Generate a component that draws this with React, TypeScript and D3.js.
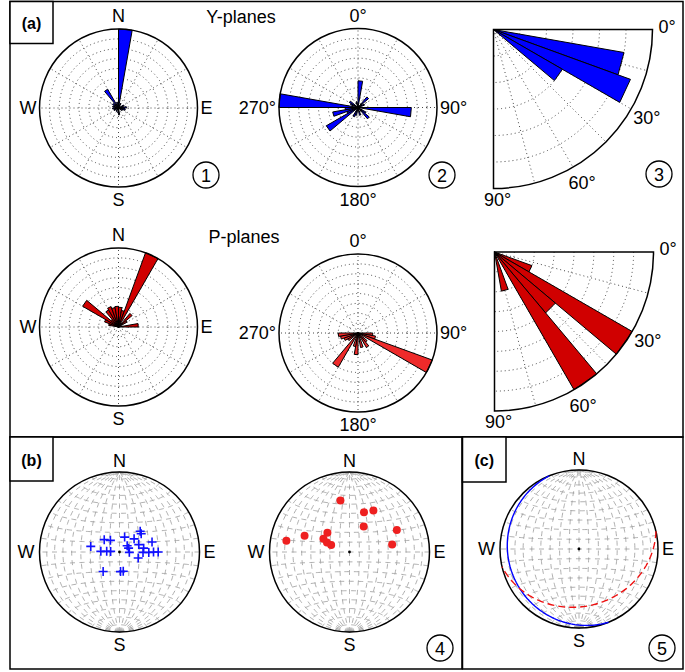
import React from 'react';
import * as d3 from 'd3';

const FONT = 'Liberation Sans, Arial, Helvetica, sans-serif';
const deg = Math.PI / 180;
const BIN = 10; // rose bin width, degrees

// (a) rose diagrams: bin start (deg, clockwise from N / from horizontal) and bin count
const yGeoBins = [0, 20, 60, 80, 90, 100, 120, 170, 180, 210, 240, 260, 280, 300, 320, 340];
const yGeoCounts = [8, 0.5, 0.6, 0.8, 0.6, 0.7, 0.4, 0.7, 0.5, 0.4, 0.5, 0.6, 0.6, 0.7, 2.2, 0.6];
const yRelBins = [0, 40, 60, 90, 120, 130, 160, 190, 200, 230, 240, 250, 260, 270, 290, 300, 340];
const yRelCounts = [2.7, 1.4, 0.7, 5.4, 0.9, 1.5, 0.8, 0.8, 1.0, 3.7, 1.2, 2.6, 1.3, 8, 0.8, 1.0, 0.6];
const yDipBins = [10, 20, 30];
const yDipCounts = [10, 11, 6];

const pGeoBins = [0, 10, 20, 40, 50, 80, 280, 290, 300, 310, 320, 330, 340, 350];
const pGeoCounts = [2.0, 1.7, 8, 1.8, 1.0, 2.0, 1.0, 1.5, 4.2, 1.0, 2.0, 2.2, 2.0, 2.1];
const pRelBins = [90, 100, 110, 130, 140, 160, 180, 190, 210, 230, 240, 250, 260];
const pRelCounts = [1.5, 1.8, 8, 1.2, 1.7, 1.5, 2.2, 1.4, 4.0, 1.2, 1.5, 1.8, 2.0];
const pDipBins = [20, 30, 40, 50, 70];
const pDipCounts = [1, 4, 2, 4, 1];

// (b) poles, trend / plunge
const yPoleTrend = [281, 309, 322, 272, 273, 274, 19, 48, 51, 67, 45, 50, 69, 81, 73, 91, 90, 90, 91, 92, 108, 220, 177, 169];
const yPolePlunge = [60, 70, 75, 71, 77, 81, 74, 70, 80, 80, 60, 61, 69, 65, 55, 60, 55, 50, 66, 80, 70, 64, 70, 70];
const pPoleTrend = [350, 20, 30, 29, 65, 80, 280, 290, 311, 297, 293, 291];
const pPolePlunge = [35, 46, 40, 60, 35, 45, 21, 40, 60, 60, 65, 70];

// (c) mean planes, dip direction / dip
const yPlane = [248, 11];
const pPlane = [167, 28];

const line = d3.line();

// lower-hemisphere equal-area projection of a unit vector (north, east, down)
const projVec = (n: number, e: number, d: number): [number, number] => {
  const h = Math.hypot(n, e) || 1;
  const rho = Math.sqrt(Math.max(0, 1 - d));
  return [(rho * e) / h, (-rho * n) / h];
};
const projLine = (trend: number, plunge: number) =>
  projVec(Math.cos(plunge * deg) * Math.cos(trend * deg), Math.cos(plunge * deg) * Math.sin(trend * deg), Math.sin(plunge * deg));

// points of a great circle given dip direction / dip, starting at the strike end
const planePoints = (dipDir: number, dip: number, startAz: number) => {
  const s = [Math.cos(startAz * deg), Math.sin(startAz * deg), 0];
  const dv = [Math.cos(dip * deg) * Math.cos(dipDir * deg), Math.cos(dip * deg) * Math.sin(dipDir * deg), Math.sin(dip * deg)];
  return d3.range(0, 180.5, 1.5).map((t) => {
    const c = Math.cos(t * deg), sn = Math.sin(t * deg);
    return projVec(c * s[0] + sn * dv[0], c * s[1] + sn * dv[1], c * s[2] + sn * dv[2]);
  });
};

const Label = ({ x, y, children, anchor = 'middle', size = 18, weight = 'normal' }: any) => (
  <text x={x} y={y} dy="0.35em" textAnchor={anchor} fontSize={size} fontWeight={weight} fontFamily={FONT} fill="#000">
    {children}
  </text>
);

const RoseFull = ({ cx, cy, bins, counts, fill, labels }: any) => {
  const R = 79;
  const r = d3.scaleLinear().domain([0, 8]).range([0, R]);
  return (
    <g transform={`translate(${cx},${cy})`}>
      {d3.range(1, 8).map((k) => (
        <circle key={k} r={r(k)} fill="none" stroke="#333" strokeWidth={0.9} strokeDasharray="1 3" />
      ))}
      {d3.range(0, 360, 30).map((a) => {
        const p = d3.pointRadial(a * deg, R);
        return <line key={a} x1={0} y1={0} x2={p[0]} y2={p[1]} stroke="#333" strokeWidth={0.9} strokeDasharray="1 3" />;
      })}
      {bins.map((b: number, i: number) => (
        <path
          key={b}
          d={line([[0, 0], d3.pointRadial(b * deg, r(counts[i])), d3.pointRadial((b + BIN) * deg, r(counts[i]))]) + 'Z'}
          fill={fill}
          stroke="#000"
          strokeWidth={1}
          strokeLinejoin="round"
        />
      ))}
      <circle r={R} fill="none" stroke="#000" strokeWidth={1.5} />
      <Label x={0} y={-R - 13}>{labels[0]}</Label>
      <Label x={R + 3} y={0} anchor="start">{labels[1]}</Label>
      <Label x={0} y={R + 13}>{labels[2]}</Label>
      <Label x={-R - 3} y={0} anchor="end">{labels[3]}</Label>
    </g>
  );
};

const RoseQuarter = ({ ox, oy, bins, counts, max, fill }: any) => {
  const R = 159;
  const r = d3.scaleLinear().domain([0, max]).range([0, R]);
  const pt = (a: number, rr: number) => d3.pointRadial((a + 90) * deg, rr);
  const rings = d3.range(max / (max === 12 ? 6 : 8), max - 1e-6, max / (max === 12 ? 6 : 8));
  const border = d3.path();
  border.moveTo(0, 0);
  border.lineTo(R, 0);
  border.arc(0, 0, R, 0, Math.PI / 2);
  border.closePath();
  return (
    <g transform={`translate(${ox},${oy})`}>
      {rings.map((v) => {
        const p = d3.path();
        p.moveTo(r(v), 0);
        p.arc(0, 0, r(v), 0, Math.PI / 2);
        return <path key={v} d={p.toString()} fill="none" stroke="#333" strokeWidth={0.9} strokeDasharray="1 3" />;
      })}
      {d3.range(15, 90, 15).map((a) => {
        const p = pt(a, R);
        return <line key={a} x1={0} y1={0} x2={p[0]} y2={p[1]} stroke="#333" strokeWidth={0.9} strokeDasharray="1 3" />;
      })}
      {bins.map((b: number, i: number) => (
        <path
          key={b}
          d={line([[0, 0], pt(b, r(counts[i])), pt(b + BIN, r(counts[i]))]) + 'Z'}
          fill={fill}
          stroke="#000"
          strokeWidth={1}
          strokeLinejoin="round"
        />
      ))}
      <path d={border.toString()} fill="none" stroke="#000" strokeWidth={1.5} />
      <Label x={R + 6} y={-3} anchor="start">0°</Label>
      {[30, 60].map((a) => {
        const p = pt(a, R + 18);
        return <Label key={a} x={p[0]} y={p[1]}>{a}°</Label>;
      })}
      <Label x={4} y={R + 11}>90°</Label>
    </g>
  );
};

const StereoNet = ({ cx, cy, R, children }: any) => {
  const s = d3.scaleLinear().domain([-1, 1]).range([-R, R]);
  const toPx = (pts: [number, number][]) => line(pts.map(([x, y]) => [s(x), s(y)]));
  const meridians: string[] = [];
  d3.range(10, 91, 10).forEach((dip) => {
    meridians.push(toPx(planePoints(90, dip, 180)) as string);
    if (dip < 90) meridians.push(toPx(planePoints(270, dip, 180)) as string);
  });
  const smalls = d3.range(10, 171, 10).map((a) =>
    toPx(d3.range(0, 180.5, 1.5).map((f) => projVec(Math.cos(a * deg), Math.sin(a * deg) * Math.cos(f * deg), Math.sin(a * deg) * Math.sin(f * deg)))) as string
  );
  return (
    <g transform={`translate(${cx},${cy})`}>
      {[...meridians, ...smalls].map((d, i) => (
        <path key={i} d={d} fill="none" stroke="#999" strokeWidth={0.8} strokeDasharray="5 4.5" />
      ))}
      <circle r={R} fill="none" stroke="#000" strokeWidth={1.5} />
      <circle r={1.4} fill="#000" />
      {children(s, toPx)}
      <Label x={0} y={-R - 11}>N</Label>
      <Label x={R + 4} y={0} anchor="start">E</Label>
      <Label x={0} y={R + 13}>S</Label>
      <Label x={-R - 5} y={0} anchor="end">W</Label>
    </g>
  );
};

const Num = ({ x, y, n }: any) => (
  <g>
    <circle cx={x} cy={y} r={13} fill="none" stroke="#000" strokeWidth={1.3} />
    <Label x={x} y={y + 1} size={18}>{n}</Label>
  </g>
);

const Tag = ({ x, y, w, h, t }: any) => (
  <g>
    <rect x={x} y={y} width={w} height={h} fill="#fff" stroke="#000" strokeWidth={1.5} />
    <Label x={x + w / 2} y={y + h / 2 + 1} size={16} weight="bold">{t}</Label>
  </g>
);

export default function App() {
  return (
    <svg width={685} height={672} style={{ position: 'absolute', left: 0, top: 0, background: '#fff' }}>
      <rect x={0} y={0} width={685} height={672} fill="#fff" />
      {/* frames */}
      <rect x={10} y={1.5} width={673} height={435.5} fill="none" stroke="#000" strokeWidth={1.5} />
      <rect x={10} y={437} width={452} height={232} fill="none" stroke="#000" strokeWidth={1.5} />
      <rect x={462.5} y={437} width={220.5} height={232} fill="none" stroke="#000" strokeWidth={1.5} />
      <Tag x={10} y={1.5} w={43} h={42} t="(a)" />
      <Tag x={10} y={437} w={43} h={44} t="(b)" />
      <Tag x={462.5} y={437} w={43.5} h={45} t="(c)" />

      <Label x={241} y={17}>Y-planes</Label>
      <Label x={244} y={237}>P-planes</Label>

      <RoseFull cx={118.5} cy={108} bins={yGeoBins} counts={yGeoCounts} fill="#0000ff" labels={['N', 'E', 'S', 'W']} />
      <RoseFull cx={358} cy={107.5} bins={yRelBins} counts={yRelCounts} fill="#0000ff" labels={['0°', '90°', '180°', '270°']} />
      <RoseQuarter ox={493.5} oy={29.5} bins={yDipBins} counts={yDipCounts} max={12} fill="#0000ff" />

      <RoseFull cx={118.5} cy={327} bins={pGeoBins} counts={pGeoCounts} fill="#d00000" labels={['N', 'E', 'S', 'W']} />
      <RoseFull cx={358} cy={333} bins={pRelBins} counts={pRelCounts} fill="#ee2a2a" labels={['0°', '90°', '180°', '270°']} />
      <RoseQuarter ox={494.5} oy={252} bins={pDipBins} counts={pDipCounts} max={4} fill="#d00000" />

      <Num x={206} y={175} n="1" />
      <Num x={442} y={175} n="2" />
      <Num x={659} y={174} n="3" />
      <Num x={440} y={648} n="4" />
      <Num x={662} y={648} n="5" />

      <StereoNet cx={119.5} cy={552} R={80}>
        {(s: any) =>
          yPoleTrend.map((t, i) => {
            const [x, y] = projLine(t, yPolePlunge[i]).map(s);
            return <path key={i} d={`M${x - 4.5},${y}H${x + 4.5}M${x},${y - 4.5}V${y + 4.5}`} stroke="#1010ff" strokeWidth={1.6} />;
          })
        }
      </StereoNet>
      <StereoNet cx={349.5} cy={552} R={80}>
        {(s: any) =>
          pPoleTrend.map((t, i) => {
            const [x, y] = projLine(t, pPolePlunge[i]).map(s);
            return <circle key={i} cx={x} cy={y} r={4} fill="#ee2020" />;
          })
        }
      </StereoNet>
      <StereoNet cx={579} cy={549} R={79}>
        {(s: any, toPx: any) => (
          <g>
            <path d={toPx(planePoints(yPlane[0], yPlane[1], yPlane[0] + 90))} fill="none" stroke="#0000ff" strokeWidth={1.4} />
            <path d={toPx(planePoints(pPlane[0], pPlane[1], pPlane[0] - 90))} fill="none" stroke="#ee1010" strokeWidth={1.4} strokeDasharray="7 4" />
          </g>
        )}
      </StereoNet>
    </svg>
  );
}
